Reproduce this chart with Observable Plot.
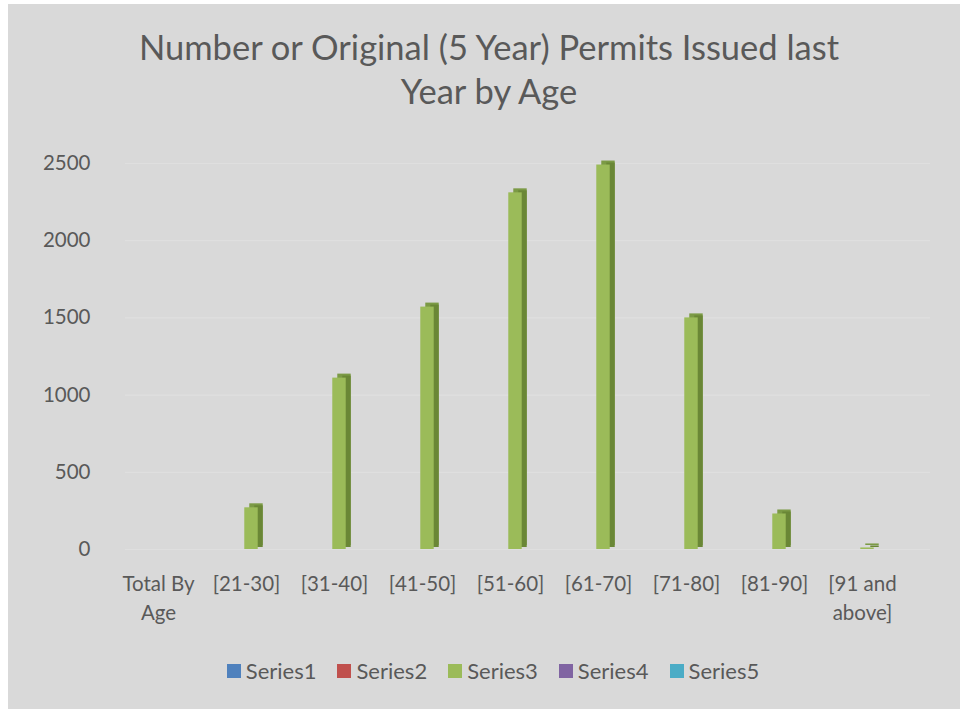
<!DOCTYPE html>
<html>
<head>
<meta charset="utf-8">
<script src="https://cdn.jsdelivr.net/npm/d3@7"></script>
<script src="https://cdn.jsdelivr.net/npm/@observablehq/plot@0.6"></script>
<style>
  html, body { margin: 0; padding: 0; background: #ffffff; }
  #chart {
    position: absolute; left: 8px; top: 4px; width: 952px; height: 705px;
    background: #d9d9d9; font-family: Lato, "Open Sans", sans-serif; color: #595959;
  }
  #title {
    position: absolute; left: 0; top: 21px; width: 962px; text-align: center;
    font-size: 34.5px; line-height: 44px;
  }
  #plot { position: absolute; left: 0; top: 122px; }
  #legend {
    position: absolute; left: 9px; width: 952px; top: 654px; display: flex; justify-content: center;
    font-size: 22px; line-height: 26px;
  }
  .item { display: flex; align-items: center; margin: 0 10.5px; }
  .sw { width: 14px; height: 14px; margin-right: 5px; }
</style>
</head>
<body>
<div id="chart">
  <div id="title">Number or Original (5 Year) Permits Issued last<br>Year by Age</div>
  <div id="plot"></div>
  <div id="legend"></div>
</div>
<script>
const categories = ["Total By\nAge", "[21-30]", "[31-40]", "[41-50]", "[51-60]", "[61-70]", "[71-80]", "[81-90]", "[91 and\nabove]"];
const series3 = [0, 270, 1110, 1570, 2310, 2490, 1500, 230, 10];
const seriesNames = ["Series1", "Series2", "Series3", "Series4", "Series5"];
const seriesColors = ["#4f81bd", "#c0504d", "#9bbb59", "#8064a2", "#4bacc6"];
const yTicks = [0, 500, 1000, 1500, 2000, 2500];

const data = categories.map((c, i) => ({cat: c, value: series3[i]})).filter(d => d.value > 0);

const W = 952, H = 514;
const bandW = (W - 103 - 52) / categories.length;
const half = bandW / 2;

const chart = Plot.plot({
  width: W,
  height: H,
  marginLeft: 103,
  marginRight: 52,
  marginTop: 37,
  marginBottom: 91,
  style: {background: "transparent", color: "#595959", fontFamily: "Lato, 'Open Sans', sans-serif"},
  x: {type: "band", domain: categories, padding: 0, label: null},
  y: {domain: [0, 2500], label: null},
  marks: [
    Plot.ruleY(yTicks, {stroke: "#dfdfdf", strokeWidth: 1.2, insetLeft: 14, insetRight: -22}),
    Plot.barY(data, {x: "cat", y: "value", fill: "#7b9a45", insetLeft: half + 3, insetRight: half - 17, dy: -4}),
    Plot.barY(data, {x: "cat", y: "value", fill: "#6a8736", insetLeft: half + 8, insetRight: half - 17, dy: -2}),
    Plot.barY(data, {x: "cat", y: "value", fill: "#9bbb59", insetLeft: half - 2, insetRight: half - 12}),
    Plot.axisY(yTicks, {tickSize: 0, tickPadding: 21, fontSize: 20.5, fill: "#595959", label: null, tickFormat: d3.format("d")}),
    Plot.axisX({tickSize: 0, tickPadding: 21, fontSize: 20.5, lineHeight: 1.4, fill: "#595959", label: null})
  ]
});
document.getElementById("plot").appendChild(chart);

const legend = document.getElementById("legend");
seriesNames.forEach((s, i) => {
  const it = document.createElement("div");
  it.className = "item";
  const sw = document.createElement("div");
  sw.className = "sw";
  sw.style.background = seriesColors[i];
  const tx = document.createElement("span");
  tx.textContent = s;
  it.appendChild(sw); it.appendChild(tx);
  legend.appendChild(it);
});
</script>
</body>
</html>
